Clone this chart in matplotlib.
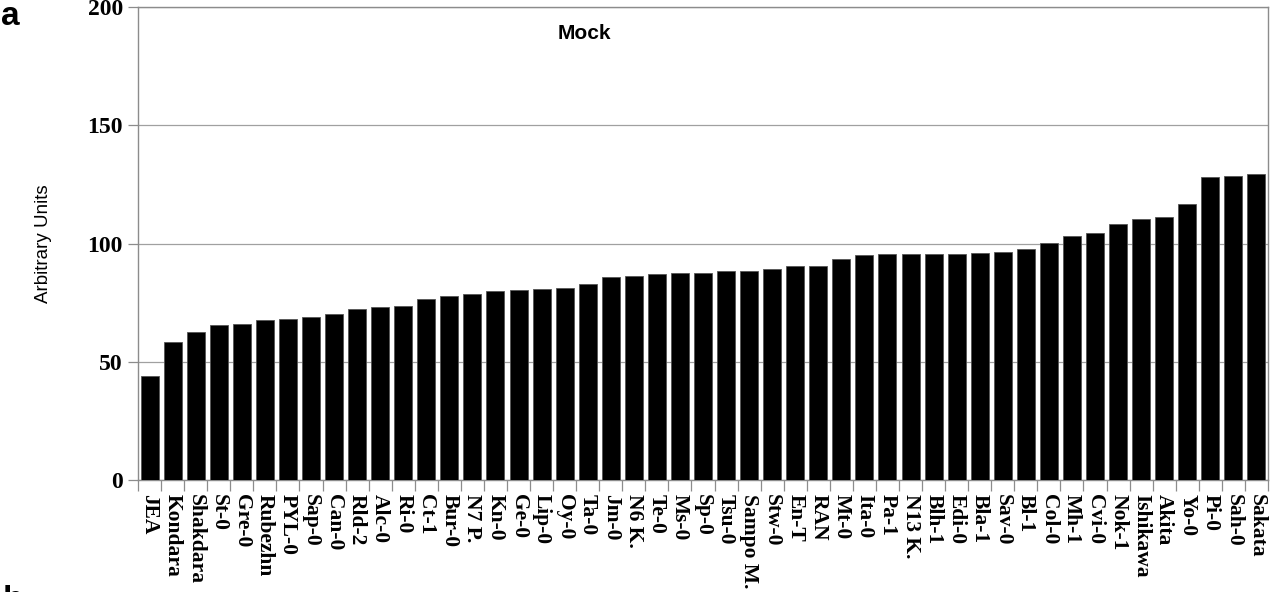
import matplotlib.pyplot as plt
import numpy as np

accessions = ["JEA", "Kondara", "Shakdara", "St-0", "Gre-0", "Rubezhn", "PYL-0",
              "Sap-0", "Can-0", "Rld-2", "Alc-0", "Ri-0", "Ct-1", "Bur-0", "N7 P.",
              "Kn-0", "Ge-0", "Lip-0", "Oy-0", "Ta-0", "Jm-0", "N6 K.", "Te-0",
              "Ms-0", "Sp-0", "Tsu-0", "Sampo M.", "Stw-0", "En-T", "RAN", "Mt-0",
              "Ita-0", "Pa-1", "N13 K.", "Blh-1", "Edi-0", "Bla-1", "Sav-0", "Bl-1",
              "Col-0", "Mh-1", "Cvi-0", "Nok-1", "Ishikawa", "Akita", "Yo-0",
              "Pi-0", "Sah-0", "Sakata"]
mock = [44.2, 58.5, 62.5, 65.5, 66.2, 67.5, 68.2, 69, 70.3, 72.3, 73.2, 73.8,
        76.7, 78, 78.7, 80.1, 80.2, 80.7, 81.4, 83, 85.7, 86.3, 87, 87.7, 87.7,
        88.3, 88.3, 89.2, 90.6, 90.6, 93.3, 95, 95.4, 95.4, 95.4, 95.4, 96,
        96.6, 97.6, 100.4, 103.1, 104.5, 108.5, 110.6, 111.3, 116.8, 128.1,
        128.7, 129.3]
y_ticks = [0, 50, 100, 150, 200]

grey = "#8c8c8c"
fig = plt.figure(figsize=(12.71, 5.92), dpi=100)
ax = fig.add_axes([0.1086, 0.189, 0.889, 0.799])

x = np.arange(len(accessions))
ax.bar(x, mock, width=0.78, color="black", edgecolor="#555555", linewidth=0.6, zorder=3)

ax.set_xlim(-0.5, len(accessions) - 0.5)
ax.set_ylim(0, 200)
ax.set_yticks(y_ticks)
ax.set_yticklabels([str(t) for t in y_ticks], fontfamily="Liberation Serif",
                   fontweight="bold", fontsize=17)
ax.yaxis.grid(True, color="#a0a0a0", linewidth=0.9, zorder=0)

ax.set_xticks(x)
ax.set_xticklabels(accessions, rotation=270, fontfamily="Liberation Serif",
                   fontweight="bold", fontsize=15.5, va="top", ha="center")
ax.set_xticks(np.arange(-0.5, len(accessions)), minor=True)
ax.tick_params(axis="x", which="major", length=0, pad=10)
ax.tick_params(axis="x", which="minor", length=8, color=grey, width=0.9)
ax.tick_params(axis="y", length=7, color=grey, width=0.9, pad=4)

for s in ax.spines.values():
    s.set_color(grey)
    s.set_linewidth(1.0)

ax.set_ylabel("Arbitrary Units", fontfamily="Liberation Sans", fontsize=13.5)
ax.yaxis.set_label_coords(-0.076, 0.5)

ax.text(0.395, 0.945, "Mock", transform=ax.transAxes, ha="center", va="center",
        fontfamily="Liberation Sans", fontweight="bold", fontsize=15)
fig.text(0.001, 0.972, "a", ha="left", va="center", fontfamily="Liberation Sans",
         fontweight="bold", fontsize=24)
fig.text(0.002, -0.014, "b", ha="left", va="center", fontfamily="Liberation Sans",
         fontweight="bold", fontsize=24)

fig.savefig("out.png", dpi=100)
